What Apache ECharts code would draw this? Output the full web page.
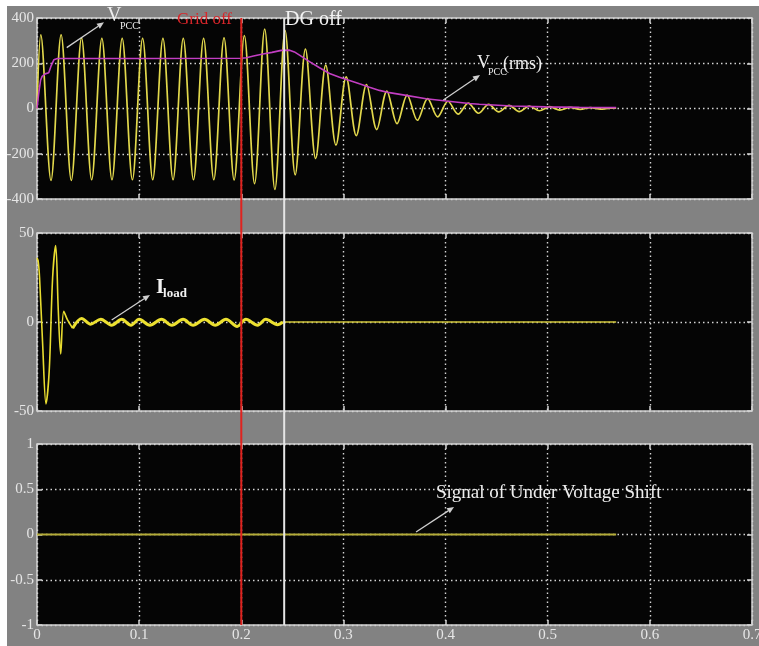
<!DOCTYPE html>
<html>
<head>
<meta charset="utf-8">
<script src="https://cdn.jsdelivr.net/npm/echarts@6/dist/echarts.min.js"></script>
<style>
  html, body { margin: 0; padding: 0; background: #ffffff; }
  #chart { width: 759px; height: 646px; }
</style>
</head>
<body>
<div id="chart"></div>
<script>
// ---- time axis (s) and value axes ----
const timeMin = 0, timeMax = 0.7, timeStep = 0.1;
const vpccAxis = { min: -400, max: 400, step: 200 };
const iloadAxis = { min: -50, max: 50, step: 50 };
const signalAxis = { min: -1, max: 1, step: 0.5 };

// ---- V_PCC instantaneous waveform: successive extrema (s, V) ----
const vpccT = [0, 0.0037, 0.0137, 0.0236, 0.0336, 0.0436, 0.0535, 0.0635, 0.0734, 0.0834, 0.0934,
  0.1034, 0.1133, 0.1233, 0.1332, 0.1432, 0.1532, 0.1631, 0.1731, 0.1831, 0.1930,
  0.2030, 0.2130, 0.2229, 0.2329, 0.2429, 0.2528, 0.2628, 0.2728, 0.2827, 0.2927,
  0.3027, 0.3126, 0.3226, 0.3326, 0.3425, 0.3525, 0.3624, 0.3724, 0.3824, 0.3923,
  0.4023, 0.4123, 0.4222, 0.4322, 0.4422, 0.4521, 0.4621, 0.4721, 0.4820, 0.4920,
  0.5019, 0.5119, 0.5219, 0.5318, 0.5418, 0.5518, 0.5617, 0.567];
const vpccV = [0, 325, -318, 325, -318, 312, -315, 310, -315, 310, -315,
  310, -315, 310, -315, 310, -315, 310, -315, 312, -316,
  322, -332, 351, -358, 344, -293, 262, -221, 192, -162,
  140, -120, 106, -93, 77, -67, 59, -52, 44, -37,
  32, -25, 24, -21, 18, -15, 14, -14, 11, -10,
  8, -7, 5, -4, 4, -3, 2, 1];

// ---- V_PCC rms (s, V) ----
const rmsT = [0, 0.0015, 0.0035, 0.005, 0.008, 0.0115, 0.0135, 0.0165, 0.02, 0.1, 0.2,
  0.205, 0.212, 0.2212, 0.23, 0.2391, 0.2473, 0.252, 0.257, 0.2668, 0.2766, 0.2864,
  0.2962, 0.306, 0.3157, 0.3255, 0.3353, 0.345, 0.3613, 0.381, 0.4005, 0.4233, 0.433,
  0.465, 0.498, 0.531, 0.567];
const rmsV = [0, 60, 125, 142, 153, 158, 185, 215, 221, 221, 222,
  224, 232, 241, 248, 257, 258, 250, 236, 207, 180, 155,
  138, 124, 109, 94, 80, 70, 58, 43, 33, 22, 19,
  11, 7, 5, 4];

// ---- load current (s, A) ----
const iloadT = [0, 0.0012, 0.0025, 0.0055, 0.0088, 0.012, 0.0153, 0.0183, 0.0208, 0.0232, 0.0262,
  0.030, 0.0349, 0.0437, 0.0525, 0.0625, 0.073, 0.083, 0.092, 0.100, 0.1105, 0.1219,
  0.132, 0.143, 0.1528, 0.164, 0.1745, 0.185, 0.196, 0.2045, 0.216, 0.224, 0.2355, 0.2408];
const iloadV = [36, 34, 25, -12, -46, -27, 25, 43, 7, -18, 6,
  1, -3.5, 2, -1.2, 1.6, -1.8, 1.5, -1.8, 1.5, -1.8, 1.5,
  -1.8, 1.5, -1.8, 1.5, -1.8, 1.5, -2.5, 1.5, -1.8, 1.5, -1.5, 0];
const iloadTransientEnd = 12;          // index where the steady ripple starts
const iloadOffT = [0.2408, 0.567];
const iloadOffV = [0, 0];

// ---- under voltage shift signal ----
const signalT = [0, 0.567];
const signalV = [0, 0];

// ---- events (s) ----
const gridOffT = 0.2;
const dgOffT = 0.242;

const zip = (t, v) => t.map((x, i) => [x, v[i]]);

const serif = 'Liberation Serif';
const labelColor = '#e6e6e6';
const frameColor = '#d2d2d2';

const grids = [
  { left: 37, top: 18, width: 715, height: 181 },
  { left: 37, top: 233, width: 715, height: 178 },
  { left: 37, top: 444, width: 715, height: 181 }
].map(g => Object.assign(g, {
  show: true, backgroundColor: '#050505', borderColor: frameColor, borderWidth: 1.5,
  containLabel: false, outerBoundsMode: 'none'
}));

const dotted = { color: '#d4d4d4', width: 1.4, type: [1.5, 3] };
const tick = { show: true, inside: true, length: 5, lineStyle: { color: frameColor, width: 1.5 } };
const noLine = { show: false, onZero: false };

const xAxes = [], yAxes = [];
[0, 1, 2].forEach(i => {
  xAxes.push({
    type: 'value', gridIndex: i, position: 'bottom', min: timeMin, max: timeMax, interval: timeStep,
    axisLine: noLine, axisTick: tick,
    axisLabel: { show: i === 2, color: labelColor, fontFamily: serif, fontSize: 15, margin: 3,
      showMinLabel: true, showMaxLabel: true, hideOverlap: false },
    splitLine: { show: true, lineStyle: dotted }
  });
});
[0, 1, 2].forEach(i => {
  xAxes.push({
    type: 'value', gridIndex: i, position: 'top', min: timeMin, max: timeMax, interval: timeStep,
    axisLine: noLine, axisTick: tick, axisLabel: { show: false }, splitLine: { show: false }
  });
});
[vpccAxis, iloadAxis, signalAxis].forEach((a, i) => {
  yAxes.push({
    type: 'value', gridIndex: i, position: 'left', min: a.min, max: a.max, interval: a.step,
    axisLine: noLine, axisTick: tick,
    axisLabel: { color: labelColor, fontFamily: serif, fontSize: 15, margin: 3,
      showMinLabel: true, showMaxLabel: true, hideOverlap: false },
    splitLine: { show: true, lineStyle: dotted }
  });
});
[vpccAxis, iloadAxis, signalAxis].forEach((a, i) => {
  yAxes.push({
    type: 'value', gridIndex: i, position: 'right', min: a.min, max: a.max, interval: a.step,
    axisLine: noLine, axisTick: tick, axisLabel: { show: false }, splitLine: { show: false }
  });
});

const lineSeries = (name, data, xi, color, width, smooth, z) => ({
  name, type: 'line', xAxisIndex: xi, yAxisIndex: xi, data,
  showSymbol: false, smooth: smooth, animation: false, z: z || 2,
  lineStyle: { color, width }
});

const chart = echarts.init(document.getElementById('chart'), null, { renderer: 'canvas' });
chart.setOption({
  backgroundColor: '#828282',
  animation: false,
  grid: grids,
  xAxis: xAxes,
  yAxis: yAxes,
  series: [
    lineSeries('Vpcc', zip(vpccT, vpccV), 0, '#e2d84c', 1.7, 0.33, 2),
    lineSeries('Vpcc rms', zip(rmsT, rmsV), 0, '#c23ec2', 1.6, false, 3),
    lineSeries('Iload transient', zip(iloadT, iloadV).slice(0, iloadTransientEnd + 1), 1, '#e8dc30', 1.6, 0.33, 2),
    lineSeries('Iload', zip(iloadT, iloadV).slice(iloadTransientEnd), 1, '#ece030', 3, 0.33, 2),
    lineSeries('Iload off', zip(iloadOffT, iloadOffV), 1, '#cfc43a', 1.6, false, 2),
    lineSeries('Under voltage shift', zip(signalT, signalV), 2, '#b4ac38', 2, false, 2)
  ]
});

// ---- overlays: event lines, labels and pointer arrows ----
const px = (grid, t, v) => chart.convertToPixel({ xAxisIndex: grid, yAxisIndex: grid }, [t, v]);
const arrowColor = '#cfcfcf';

function arrow(grid, from, to) {
  const a = px(grid, from[0], from[1]);
  const b = px(grid, to[0], to[1]);
  const ang = Math.atan2(b[1] - a[1], b[0] - a[0]);
  const len = 7, half = 3;
  const bx = b[0] - len * Math.cos(ang), by = b[1] - len * Math.sin(ang);
  const nx = -Math.sin(ang) * half, ny = Math.cos(ang) * half;
  return [
    { type: 'line', z: 120, shape: { x1: a[0], y1: a[1], x2: bx, y2: by },
      style: { stroke: arrowColor, lineWidth: 1.3 } },
    { type: 'polygon', z: 120, shape: { points: [[b[0], b[1]], [bx + nx, by + ny], [bx - nx, by - ny]] },
      style: { fill: arrowColor } }
  ];
}

function label(grid, t, v, text, size, color, opts) {
  const p = px(grid, t, v);
  return {
    type: 'text', z: 130, x: p[0], y: p[1],
    style: Object.assign({
      text, fill: color, fontFamily: serif, fontSize: size,
      textAlign: 'left', textVerticalAlign: 'middle'
    }, opts || {})
  };
}

const topY = px(0, 0, vpccAxis.max)[1];
const botY = px(2, 0, signalAxis.min)[1];
const xGrid = px(0, gridOffT, 0)[0];
const xDg = px(0, dgOffT, 0)[0];

const graphics = [
  { type: 'rect', z: 1, silent: true, shape: { x: 0, y: 0, width: 759, height: 6 }, style: { fill: '#ffffff' } },
  { type: 'rect', z: 1, silent: true, shape: { x: 0, y: 0, width: 7, height: 646 }, style: { fill: '#ffffff' } },
  { type: 'line', z: 110, shape: { x1: xGrid, y1: topY, x2: xGrid, y2: botY }, style: { stroke: '#e0231f', lineWidth: 2 } },
  { type: 'line', z: 110, shape: { x1: xDg, y1: topY, x2: xDg, y2: botY }, style: { stroke: '#e6e6e6', lineWidth: 2 } },
  label(0, 0.1909, 392, 'Grid off', 17, '#d8262a', { textAlign: 'right' }),
  label(0, 0.2428, 392, 'DG off', 20, '#f2f2f2'),
  label(0, 0.0685, 409, 'V', 20, '#eeeeee'),
  label(0, 0.0813, 363, 'PCC', 10, '#eeeeee'),
  label(0, 0.4308, 201, 'V', 18, '#eeeeee'),
  label(0, 0.4416, 161, 'PCC', 10, '#eeeeee'),
  label(0, 0.4562, 197, '(rms)', 18, '#eeeeee'),
  label(1, 0.1165, 19.1, 'I', 21, '#f2f2f2', { fontWeight: 'bold' }),
  label(1, 0.1234, 15.7, 'load', 13, '#f2f2f2', { fontWeight: 'bold' }),
  label(2, 0.3906, 0.459, 'Signal of Under Voltage Shift', 19, '#eeeeee')
]
  .concat(arrow(0, [0.0291, 269], [0.0656, 381]))
  .concat(arrow(0, [0.3978, 37.6], [0.4337, 148]))
  .concat(arrow(1, [0.0731, 1.1], [0.1106, 15.2]))
  .concat(arrow(2, [0.3711, 0.028], [0.4083, 0.304]));

chart.setOption({ graphic: graphics });
</script>
</body>
</html>
